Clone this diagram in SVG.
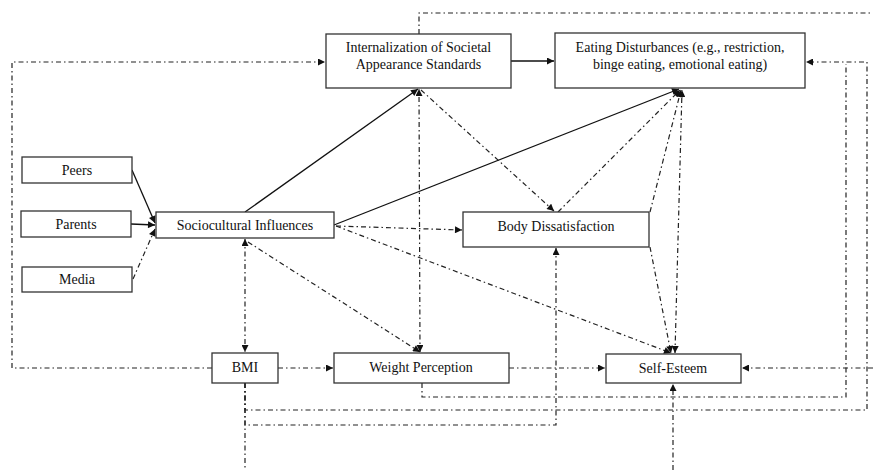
<svg xmlns="http://www.w3.org/2000/svg" width="873" height="470" viewBox="0 0 873 470">
<style>
.box{fill:#fff;stroke:#333;stroke-width:1.3}
.t{font-family:"Liberation Serif","Times New Roman",serif;font-size:14px;fill:#111;text-anchor:middle}
.s{fill:none;stroke:#111;stroke-width:1.3}
.d{fill:none;stroke:#222;stroke-width:1.2;stroke-dasharray:5 3 1.5 3}
</style>
<defs>
<marker id="a" viewBox="0 0 10 10" refX="10" refY="5" markerWidth="8" markerHeight="7" markerUnits="userSpaceOnUse" orient="auto-start-reverse">
<path d="M0,0 L10,5 L0,10 z" fill="#111"/>
</marker>
</defs>
<rect width="873" height="470" fill="#fff"/>
<g id="connectors">
<path class="s" d="M132,170 L155,223" marker-end="url(#a)"/>
<path class="s" d="M131,224 L155,225" marker-end="url(#a)"/>
<path class="d" d="M133,279 L155,229" marker-end="url(#a)"/>
<path class="s" d="M245,212 L418,89" marker-end="url(#a)"/>
<path class="s" d="M334,225 L679,89" marker-end="url(#a)"/>
<path class="s" d="M511,61 L554,61" marker-end="url(#a)"/>
<path class="d" d="M336,226 L462,230" marker-end="url(#a)"/>
<path class="d" d="M336,226 L671,353" marker-end="url(#a)"/>
<path class="d" d="M245,239 L245,352" marker-start="url(#a)" marker-end="url(#a)"/>
<path class="d" d="M248,242 L420,352" marker-end="url(#a)"/>
<path class="d" d="M420,352 L419,89" marker-start="url(#a)" marker-end="url(#a)"/>
<path class="d" d="M421,90 L554,211" marker-end="url(#a)"/>
<path class="d" d="M558,212 L680,90" marker-end="url(#a)"/>
<path class="d" d="M650,212 L681,90" marker-end="url(#a)"/>
<path class="d" d="M650,247 L671,353" marker-end="url(#a)"/>
<path class="d" d="M675,353 L682,90" marker-start="url(#a)" marker-end="url(#a)"/>
<path class="d" d="M278,368 L333,368" marker-end="url(#a)"/>
<path class="d" d="M509,368 L605,368" marker-end="url(#a)"/>
<path class="d" d="M873,368 L742,368" marker-end="url(#a)"/>
<path class="d" d="M245,383 L245,425 L556,425 L556,248" marker-end="url(#a)"/>
<path class="d" d="M245,383 L245,410 L867,410 L867,62 L806,62" marker-end="url(#a)"/>
<path class="d" d="M422,383 L422,397 L846,397 L846,64"/>
<path class="d" d="M212,368 L12,368 L12,62 L325,62" marker-end="url(#a)"/>
<path class="d" d="M419,34 L419,13 L873,13"/>
<path class="d" d="M245,383 L245,470"/>
<path class="d" d="M673,470 L673,384" marker-end="url(#a)"/>
</g>
<g id="internalization">
<rect class="box" x="326" y="34" width="185" height="54"/>
<text class="t" x="418.5" y="52">Internalization of Societal</text>
<text class="t" x="418.5" y="69">Appearance Standards</text>
</g>
<g id="eating">
<rect class="box" x="555" y="33" width="250" height="55"/>
<text class="t" x="680" y="52">Eating Disturbances (e.g., restriction,</text>
<text class="t" x="680" y="69">binge eating, emotional eating)</text>
</g>
<g id="peers">
<rect class="box" x="22" y="157" width="110" height="26"/>
<text class="t" x="77" y="175">Peers</text>
</g>
<g id="parents">
<rect class="box" x="21" y="211" width="110" height="26"/>
<text class="t" x="76" y="229">Parents</text>
</g>
<g id="media">
<rect class="box" x="22" y="267" width="110" height="25"/>
<text class="t" x="77" y="284">Media</text>
</g>
<g id="sociocultural">
<rect class="box" x="156" y="212" width="178" height="26"/>
<text class="t" x="245" y="230">Sociocultural Influences</text>
</g>
<g id="body-dissatisfaction">
<rect class="box" x="463" y="212" width="186" height="35"/>
<text class="t" x="556" y="231">Body Dissatisfaction</text>
</g>
<g id="bmi">
<rect class="box" x="212" y="353" width="66" height="30"/>
<text class="t" x="245" y="372">BMI</text>
</g>
<g id="weight-perception">
<rect class="box" x="334" y="353" width="175" height="30"/>
<text class="t" x="421" y="372">Weight Perception</text>
</g>
<g id="self-esteem">
<rect class="box" x="606" y="354" width="135" height="29"/>
<text class="t" x="673" y="373">Self-Esteem</text>
</g>
</svg>
